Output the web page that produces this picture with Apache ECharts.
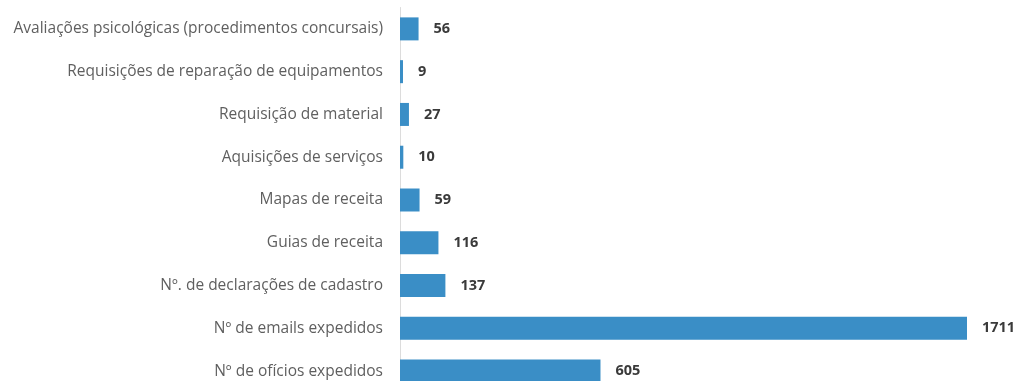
<!DOCTYPE html>
<html>
<head>
<meta charset="utf-8">
<script src="https://cdn.jsdelivr.net/npm/echarts@6/dist/echarts.min.js"></script>
<style>
  html, body { margin: 0; padding: 0; background: #ffffff; }
  #chart { width: 1018px; height: 381px; }
</style>
</head>
<body>
<div id="chart"></div>
<script>
// Activity counts, listed top to bottom
const categories = [
  'Avaliações psicológicas (procedimentos concursais)',
  'Requisições de reparação de equipamentos',
  'Requisição de material',
  'Aquisições de serviços',
  'Mapas de receita',
  'Guias de receita',
  'Nº. de declarações de cadastro',
  'Nº de emails expedidos',
  'Nº de ofícios expedidos'
];
const values = [56, 9, 27, 10, 59, 116, 137, 1711, 605];

const chart = echarts.init(document.getElementById('chart'), null, { renderer: 'canvas' });

chart.setOption({
  animation: false,
  backgroundColor: '#ffffff',
  // the last row runs past the bottom edge of the canvas
  grid: {
    left: 400, width: 567, top: 7.5, height: 385,
    containLabel: false,
    outerBoundsMode: 'none'
  },
  xAxis: {
    type: 'value',
    min: 0,
    max: 1711,
    show: false
  },
  yAxis: {
    type: 'category',
    inverse: true,
    data: categories,
    axisLine: { show: true, lineStyle: { color: '#dcdcdc', width: 1 } },
    axisTick: { show: false },
    axisLabel: {
      margin: 17,
      color: '#5f5f5f',
      fontFamily: 'Open Sans',
      fontSize: 15.5
    }
  },
  series: [{
    type: 'bar',
    data: values,
    barWidth: 23,
    itemStyle: { color: '#3a8ec6' },
    label: {
      show: true,
      position: 'right',
      distance: 15,
      color: '#3a3a3a',
      fontFamily: 'Open Sans',
      fontWeight: 'bold',
      fontSize: 14.5
    }
  }]
});
</script>
</body>
</html>
